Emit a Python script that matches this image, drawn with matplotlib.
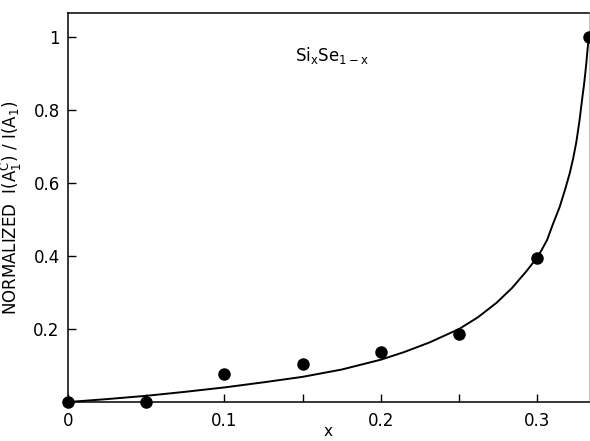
import matplotlib

matplotlib.use("Agg")
import matplotlib.pyplot as plt

# Measured points
x_points = [0.0, 0.05, 0.10, 0.15, 0.20, 0.25, 0.30, 0.333]
y_points = [0.0, 0.0, 0.077, 0.104, 0.137, 0.187, 0.394, 1.0]

# Fitted curve, sampled along its length (denser where it turns up)
x_curve = [0.0, 0.025, 0.05, 0.075, 0.10, 0.125, 0.15, 0.175, 0.20, 0.215,
           0.231, 0.25, 0.262, 0.274, 0.284, 0.293, 0.300, 0.303, 0.3063,
           0.310, 0.3144, 0.318, 0.3208, 0.323, 0.325, 0.327, 0.3289, 0.330,
           0.3314, 0.332, 0.333]
y_curve = [0.0, 0.008, 0.017, 0.028, 0.040, 0.054, 0.069, 0.089, 0.116, 0.137,
           0.163, 0.200, 0.232, 0.272, 0.313, 0.358, 0.396, 0.418, 0.444,
           0.487, 0.535, 0.585, 0.627, 0.668, 0.712, 0.770, 0.836, 0.872,
           0.928, 0.958, 1.0]

x_major = [0.0, 0.1, 0.2, 0.3]
x_major_labels = ["0", "0.1", "0.2", "0.3"]
x_minor = [0.05, 0.15, 0.25]
y_major = [0.2, 0.4, 0.6, 0.8, 1.0]
y_major_labels = ["0.2", "0.4", "0.6", "0.8", "1"]

fig = plt.figure(figsize=(5.9, 4.41), dpi=100)
ax = fig.add_axes([0.1153, 0.0884, 0.8827, 0.882])

ax.plot(x_curve, y_curve, color="black", linewidth=1.4, clip_on=False,
        solid_joinstyle="round")
ax.plot(x_points, y_points, "o", color="black", markersize=8, clip_on=False,
        zorder=3)

ax.set_xlim(0, 0.333)
ax.set_ylim(0, 1.066)

ax.set_xticks(x_major)
ax.set_xticklabels(x_major_labels)
ax.set_xticks(x_minor, minor=True)
ax.set_yticks(y_major)
ax.set_yticklabels(y_major_labels)
ax.tick_params(which="both", direction="in", length=6, width=1, labelsize=12,
               pad=7, colors="black")
ax.tick_params(axis="y", pad=6)

for side in ("left", "bottom", "top"):
    ax.spines[side].set_linewidth(1.1)
ax.spines["right"].set_linewidth(0.8)
ax.spines["right"].set_color("#c8c8c8")

ax.set_xlabel("x", fontsize=11, va="center")
ax.xaxis.set_label_coords(0.5, -0.075)
ax.set_ylabel(r"NORMALIZED  I(A$_1^{\mathrm{C}}$) / I(A$_1$)", fontsize=12,
              labelpad=7)

ax.text(0.145, 0.95, r"Si$_\mathrm{x}$Se$_{\mathrm{1-x}}$", fontsize=12,
        ha="left", va="center")

fig.savefig("out.png", dpi=100)
